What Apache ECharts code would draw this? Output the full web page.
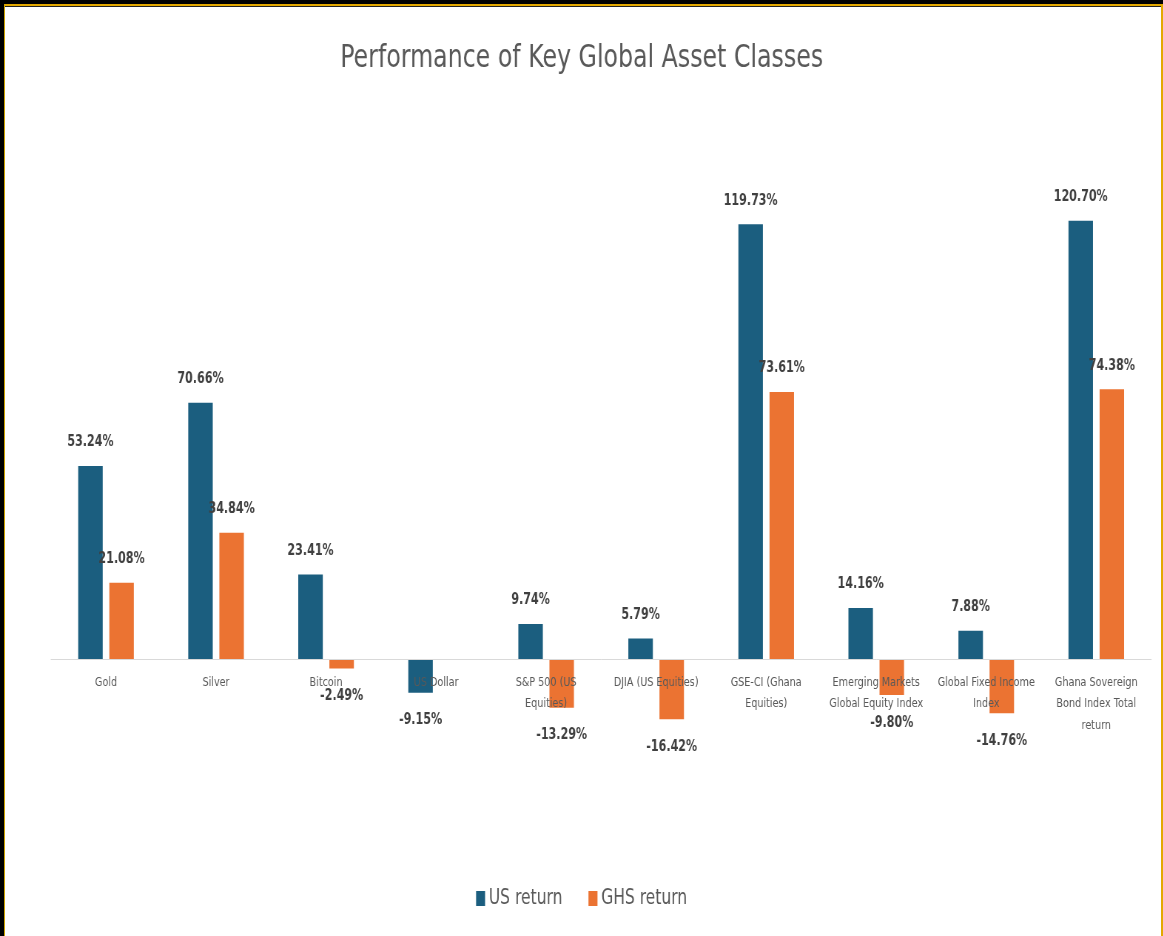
<!DOCTYPE html>
<html>
<head>
<meta charset="utf-8">
<script src="https://cdn.jsdelivr.net/npm/echarts@6/dist/echarts.min.js"></script>
<style>
  html, body { margin: 0; padding: 0; background: #000; overflow: hidden; }
  #wrap { position: absolute; left: 0; top: 0; width: 1163px; height: 936px; background: #fff; overflow: hidden; }
  #chart { position: absolute; left: 0; top: 0; width: 1572px; height: 936px; transform: scaleX(0.74); transform-origin: 0 0; }
  .fr { position: absolute; pointer-events: none; }
</style>
</head>
<body>
<div id="wrap"><div id="chart"></div></div>
<div class="fr" style="left:0;top:0;width:1163px;height:4px;background:#000"></div>
<div class="fr" style="left:0;top:0;width:4px;height:936px;background:#000"></div>
<div class="fr" style="left:4px;top:4px;width:1159px;height:2px;background:#e3a800"></div>
<div class="fr" style="left:4px;top:6px;width:1157px;height:1px;background:#222"></div>
<div class="fr" style="left:4px;top:4px;width:1px;height:932px;background:#c9a000"></div>
<div class="fr" style="left:1161px;top:4px;width:2px;height:932px;background:#e3a800"></div>
<script>
const categories = [
  'Gold', 'Silver', 'Bitcoin', 'US Dollar', 'S&P 500 (US\nEquities)',
  'DJIA (US Equities)', 'GSE-CI (Ghana\nEquities)', 'Emerging Markets\nGlobal Equity Index',
  'Global Fixed Income\nIndex', 'Ghana Sovereign\nBond Index Total\nreturn'
];
const usReturn  = [53.24, 70.66, 23.41, -9.15, 9.74, 5.79, 119.73, 14.16, 7.88, 120.70];
const ghsReturn = [21.08, 34.84, -2.49, null, -13.29, -16.42, 73.61, -9.80, -14.76, 74.38];
const seriesNames = ['US return', 'GHS return'];

const SX = 0.74; // horizontal condensing of the whole drawing
const FONT = '"DejaVu Sans", sans-serif';

function labelCfg() {
  return {
    show: true,
    position: 'top',
    distance: 16,
    fontFamily: FONT,
    fontWeight: 'bold',
    fontSize: 15,
    color: '#404040',
    formatter: p => p.value.toFixed(2) + '%'
  };
}
function mkData(arr) {
  return arr.map(v => v === null ? null : {
    value: v,
    label: v < 0 ? { position: 'bottom', distance: 20 } : undefined
  });
}

const chart = echarts.init(document.getElementById('chart'), null, { renderer: 'canvas' });
chart.setOption({
  animation: false,
  backgroundColor: '#fff',
  title: {
    text: 'Performance of Key Global Asset Classes',
    left: 'center',
    top: 38,
    textStyle: { fontFamily: FONT, fontSize: 32, fontWeight: 'normal', color: '#595959' }
  },
  legend: {
    data: seriesNames,
    left: 'center',
    top: 883,
    itemWidth: 9 / SX,
    itemHeight: 15,
    itemGap: 26 / SX,
    icon: 'rect',
    textStyle: { fontFamily: FONT, fontSize: 21, color: '#595959', padding: [0, 0, 0, 0] }
  },
  grid: { left: 51 / SX, right: 12 / SX, top: 150.6, bottom: 203.8, containLabel: false },
  xAxis: {
    type: 'category',
    data: categories,
    offset: -72.7,
    z: 5,
    axisLine: { show: true, lineStyle: { color: '#d9d9d9', width: 1 }, onZero: false },
    axisTick: { show: false },
    axisLabel: {
      interval: 0,
      margin: 12,
      fontFamily: FONT,
      fontSize: 13,
      lineHeight: 21.5,
      color: '#595959'
    }
  },
  yAxis: {
    type: 'value',
    min: -20,
    max: 140,
    interval: 20,
    show: false,
    splitLine: { show: false }
  },
  series: [
    {
      name: seriesNames[0],
      type: 'bar',
      data: mkData(usReturn),
      barWidth: 24.5 / SX,
      barGap: '27%',
      itemStyle: { color: '#1b5e7f' },
      label: labelCfg()
    },
    {
      name: seriesNames[1],
      type: 'bar',
      data: mkData(ghsReturn),
      barWidth: 24.5 / SX,
      itemStyle: { color: '#eb7332' },
      label: labelCfg()
    }
  ]
});
</script>
</body>
</html>
